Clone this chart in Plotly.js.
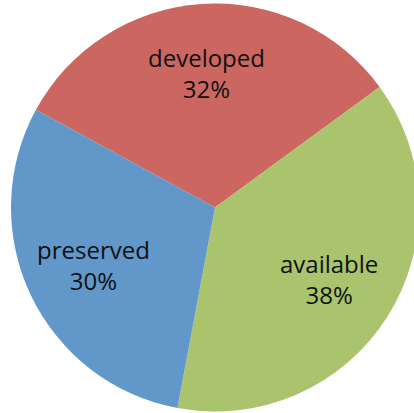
<!DOCTYPE html>
<html>
<head>
<meta charset="utf-8">
<script src="https://cdn.plot.ly/plotly-3.0.1.min.js"></script>
<style>
html, body { margin: 0; padding: 0; background: #fff; overflow: hidden; }
#chart { width: 430px; height: 413px; }
</style>
</head>
<body>
<div id="chart"></div>
<script>
var categories = ["developed", "available", "preserved"];
var values = [32, 38, 30];
var colors = ["#CC6660", "#A9C46C", "#6297C9"];

var W = 430, H = 413;
var rotation = -61.4;
var domY = [0.00363, 0.99153];
var radiusPx = (domY[1] - domY[0]) * H / 2;
var cx = 0.5, cy = (domY[0] + domY[1]) / 2;
var labelFrac = 0.66;

var total = values.reduce(function (a, b) { return a + b; }, 0);
var annotations = [];
var cum = 0;
for (var i = 0; i < values.length; i++) {
  var mid = rotation + (cum + values[i] / 2) / total * 360;
  cum += values[i];
  var rad = mid * Math.PI / 180;
  var r = labelFrac * radiusPx;
  annotations.push({
    xref: "paper", yref: "paper",
    x: cx + Math.sin(rad) * r / W,
    y: cy + Math.cos(rad) * r / H,
    xanchor: "center", yanchor: "middle",
    showarrow: false,
    text: categories[i] + "<br>" + Math.round(values[i] / total * 100) + "%",
    font: { family: "Open Sans, sans-serif", size: 24, color: "#111" }
  });
}

Plotly.newPlot("chart", [{
  type: "pie",
  labels: categories,
  values: values,
  sort: false,
  direction: "clockwise",
  rotation: rotation,
  marker: { colors: colors, line: { width: 0 } },
  textinfo: "none",
  hoverinfo: "none",
  domain: { x: [0, 1], y: domY }
}], {
  width: W,
  height: H,
  margin: { l: 0, r: 0, t: 0, b: 0 },
  showlegend: false,
  paper_bgcolor: "#ffffff",
  annotations: annotations
}, { displayModeBar: false, staticPlot: true });
</script>
</body>
</html>
